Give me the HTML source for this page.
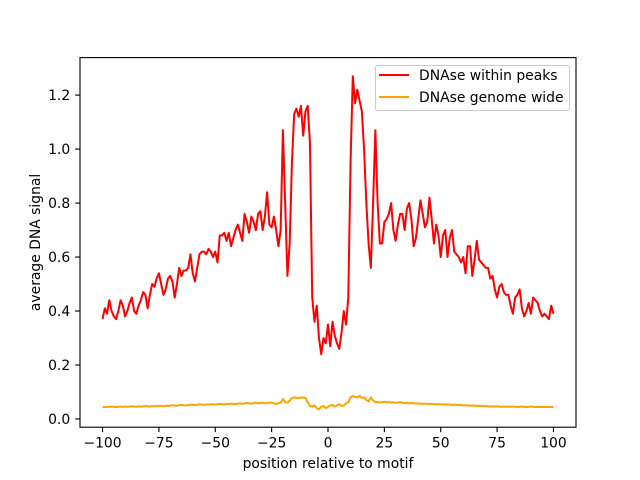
<!DOCTYPE html>
<html><head><meta charset="utf-8"><style>
body{margin:0;background:#fff;}
svg{display:block;font-family:"DejaVu Sans","Liberation Sans",sans-serif;}
</style></head><body>
<svg id="chart" width="640" height="480">
<rect width="640" height="480" fill="#fff"/>
<g id="plot"></g>
</svg>
<script>
const positions = [];
for (let p = -100; p <= 100; p++) positions.push(p);
const redLeft = [0.37,0.41,0.39,0.44,0.40,0.38,0.37,0.40,0.44,0.42,0.38,0.40,0.43,0.45,0.40,0.39,0.42,0.44,0.47,0.46,0.41,0.46,0.50,0.49,0.52,0.54,0.50,0.46,0.48,0.52,0.53,0.51,0.45,0.50,0.56,0.53,0.55,0.55,0.56,0.61,0.54,0.51,0.56,0.61,0.62,0.62,0.61,0.63,0.62,0.60,0.62,0.58,0.68,0.68,0.69,0.66,0.69,0.64,0.67,0.70,0.72,0.69,0.66,0.76,0.73,0.69,0.75,0.73,0.70,0.76,0.77,0.70,0.75];
const redMiddle = [0.84,0.72,0.71,0.75,0.70,0.64,0.70,1.07,0.80,0.53,0.65,0.95,1.13,1.15,1.12,1.16,1.05,1.14,1.16,1.02,0.45,0.36,0.42,0.30,0.24,0.30,0.28,0.35,0.27,0.36,0.31,0.28,0.26,0.32,0.40,0.35,0.45,0.95,1.27,1.17,1.22,1.18,1.14,1.00,0.80,0.65,0.56,0.80,1.07,0.80,0.65,0.65];
const redRight = [0.73,0.74,0.76,0.80,0.70,0.66,0.72,0.76,0.76,0.70,0.78,0.80,0.74,0.64,0.67,0.74,0.81,0.76,0.71,0.73,0.82,0.74,0.65,0.72,0.68,0.60,0.68,0.70,0.60,0.67,0.70,0.62,0.61,0.60,0.58,0.60,0.54,0.64,0.64,0.53,0.59,0.66,0.59,0.58,0.57,0.56,0.56,0.52,0.53,0.48,0.45,0.49,0.50,0.47,0.46,0.46,0.42,0.39,0.45,0.46,0.48,0.41,0.38,0.40,0.43,0.39,0.45,0.44,0.43,0.40,0.38,0.39,0.38,0.37,0.42,0.39];
const orangeValues = [0.045,0.044,0.045,0.045,0.046,0.045,0.044,0.045,0.046,0.045,0.046,0.045,0.046,0.047,0.046,0.045,0.047,0.046,0.047,0.048,0.047,0.046,0.048,0.047,0.048,0.049,0.048,0.047,0.049,0.048,
0.050,0.051,0.050,0.049,0.051,0.052,0.051,0.050,0.052,0.053,0.052,0.051,0.053,0.054,0.053,0.052,0.054,0.053,0.055,0.054,0.053,0.055,0.056,0.055,0.054,0.056,0.055,0.057,0.056,0.055,
0.057,0.058,0.056,0.058,0.059,0.058,0.057,0.059,0.060,0.058,0.059,0.060,0.058,0.059,0.061,0.060,0.058,0.056,
0.058,0.060,0.074,0.062,0.060,0.068,0.078,0.080,0.078,0.077,0.080,0.079,0.078,0.062,0.048,0.045,0.050,0.040,0.036,0.045,0.048,0.040,
0.045,0.050,0.052,0.046,0.050,0.055,0.048,0.050,0.058,0.062,0.080,0.085,0.082,0.080,0.086,0.078,0.080,0.070,0.065,0.080,0.068,
0.062,0.063,0.061,0.062,0.064,0.062,0.063,0.061,0.062,0.060,0.061,0.062,0.060,0.059,0.060,0.058,0.059,0.058,0.057,0.058,0.057,0.056,0.057,0.056,0.055,0.056,0.055,0.054,0.055,0.054,
0.054,0.053,0.054,0.053,0.052,0.053,0.052,0.051,0.052,0.050,0.051,0.050,0.049,0.050,0.049,0.048,0.049,0.048,0.047,0.048,0.047,0.046,0.047,0.046,0.047,0.046,0.045,0.046,0.045,0.046,0.045,0.046,0.045,0.044,0.045,0.046,0.045,0.044,0.045,0.046,0.045,0.044,0.045,0.044,0.045,0.044,0.045,0.044,0.045,0.044];
const xTicks = [-100,-75,-50,-25,0,25,50,75,100];
const yTicks = [0.0,0.2,0.4,0.6,0.8,1.0,1.2];
const yTickLabels = ["0.0","0.2","0.4","0.6","0.8","1.0","1.2"];
const redValues = redLeft.concat(redMiddle, redRight);

const L=80,R=576,T=57.6,B=427.2;
const xMin=-110,xMax=110,yMin=-0.0305,yMax=1.339;
const X=v=>L+(v-xMin)/(xMax-xMin)*(R-L);
const Y=v=>B-(v-yMin)/(yMax-yMin)*(B-T);
const FS=13.9;
const NS="http://www.w3.org/2000/svg";
const g=document.getElementById('plot');
function mk(tag,attrs,parent){const e=document.createElementNS(NS,tag);for(const k in attrs)e.setAttribute(k,attrs[k]);(parent||g).appendChild(e);return e;}

function line(vals,color,name){
  const n=Math.min(vals.length,positions.length);
  let d='';
  for(let i=0;i<n;i++) d+=(i?'L':'M')+X(positions[i]).toFixed(2)+','+Y(vals[i]).toFixed(2);
  const p=mk('path',{d:d,fill:'none',stroke:color,'stroke-width':2,'stroke-linejoin':'round'});
  
  
}
line(redValues,'#ff0000','series-dnase-within-peaks');
line(orangeValues,'#ffa500','series-dnase-genome-wide');

const frame=mk('rect',{x:L,y:T,width:R-L,height:B-T,fill:'none',stroke:'#000','stroke-width':1.1});



xTicks.forEach(t=>{
  const x=X(t);
  mk('line',{x1:x,x2:x,y1:B,y2:B+4.9,stroke:'#000','stroke-width':1.1});
  const tx=mk('text',{x:x,y:B+20.5,'text-anchor':'middle','font-size':FS,fill:'#000'});
  tx.textContent=(t<0?'\u2212'+(-t):String(t));
  
  
});
yTicks.forEach((t,i)=>{
  const y=Y(t);
  mk('line',{x1:L-4.9,x2:L,y1:y,y2:y,stroke:'#000','stroke-width':1.1});
  const tx=mk('text',{x:L-9.8,y:y+5,'text-anchor':'end','font-size':FS,fill:'#000'});
  tx.textContent=yTickLabels[i];
  
  
});
const xt=mk('text',{x:(L+R)/2,y:468,'text-anchor':'middle','font-size':FS,fill:'#000'});
xt.textContent='position relative to motif';


const yt=mk('text',{x:0,y:0,'text-anchor':'middle','font-size':FS,fill:'#000',transform:'translate(40,'+((T+B)/2)+') rotate(-90)'});
yt.textContent='average DNA signal';



const lg=mk('g',{});


mk('rect',{x:375.5,y:65.5,width:194,height:45,rx:2,fill:'#fff','fill-opacity':0.8,stroke:'#ccc','stroke-width':1},lg);
[['DNAse within peaks','#ff0000',75],['DNAse genome wide','#ffa500',97]].forEach(([label,c,y])=>{
  const e=mk('g',{},lg);
  
  
  mk('line',{x1:379,x2:409,y1:y,y2:y,stroke:c,'stroke-width':2},e);
  const t=mk('text',{x:419,y:y+5,'font-size':FS,fill:'#000'},e);
  t.textContent=label;
});
</script>
</body></html>
